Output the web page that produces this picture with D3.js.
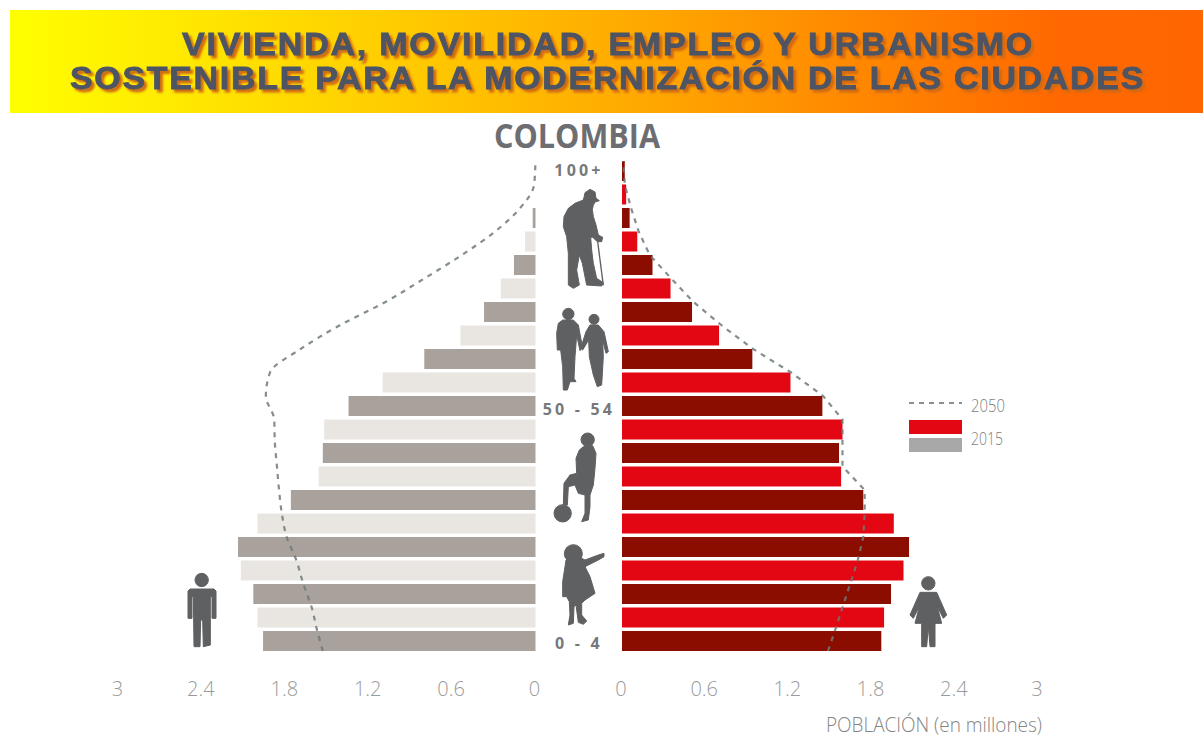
<!DOCTYPE html>
<html lang="es">
<head>
<meta charset="utf-8">
<title>Colombia: pirámide de población</title>
<script src="https://cdn.jsdelivr.net/npm/d3@7"></script>
<style>
  html, body { margin: 0; padding: 0; background: #fff; }
  svg { display: block; }
  .title { font: bold 31px "Liberation Sans", Arial, sans-serif; letter-spacing: 1.6px; fill: #4d5464; stroke: #4d5464; stroke-width: 0.8px; filter: drop-shadow(3px 3px 0.8px #cf6a14); }
  .country { font: bold 34px "Open Sans", sans-serif; fill: #6d6e71; }
  .age { font: bold 16px "Open Sans", sans-serif; fill: #77787b; letter-spacing: 3.2px; }
  .tick text { font: 300 20px "Open Sans", sans-serif; fill: #9a9a9a; }
  .note { font: 300 20px "Open Sans", sans-serif; fill: #858585; }
  .legend { font: 300 18px "Open Sans", sans-serif; fill: #7d7d7d; }
</style>
</head>
<body>
<svg id="chart" width="1203" height="740"></svg>
<script>
// Age groups, youngest first (lower bound of each five-year band)
const ageStarts = [0, 5, 10, 15, 20, 25, 30, 35, 40, 45, 50, 55, 60, 65, 70, 75, 80, 85, 90, 95, 100];

// Population in 2015, millions
const men2015 = [1.96, 2.0, 2.03, 2.12, 2.14, 2.0, 1.76, 1.56, 1.53, 1.52, 1.345, 1.1, 0.8, 0.54, 0.37, 0.25, 0.155, 0.075, 0.02, 0, 0];
const women2015 = [1.87, 1.89, 1.94, 2.03, 2.07, 1.96, 1.74, 1.58, 1.565, 1.59, 1.445, 1.215, 0.94, 0.7, 0.505, 0.35, 0.22, 0.11, 0.055, 0.03, 0.02];

// Projection for 2050, millions, sampled on the band edges
const edgeAges = [0, 5, 10, 15, 20, 25, 30, 35, 40, 45, 50, 55, 60, 65, 70, 75, 80, 85, 90, 95, 100, 105];
const men2050 = [1.53, 1.57, 1.61, 1.67, 1.72, 1.79, 1.825, 1.845, 1.86, 1.875, 1.88, 1.94, 1.91, 1.69, 1.41, 1.08, 0.8, 0.53, 0.29, 0.11, 0.01, 0];
const women2050 = [1.485, 1.535, 1.59, 1.645, 1.7, 1.74, 1.75, 1.75, 1.59, 1.59, 1.59, 1.45, 1.22, 0.945, 0.72, 0.515, 0.355, 0.2, 0.12, 0.065, 0.02, 0.01];

const axisTicks = [0, 0.6, 1.2, 1.8, 2.4, 3];
const ageLabels = [["100+", 100], ["50 - 54", 50], ["0 - 4", 0]];
const titleLines = ["VIVIENDA, MOVILIDAD, EMPLEO Y URBANISMO", "SOSTENIBLE PARA LA MODERNIZACIÓN DE LAS CIUDADES"];

const svg = d3.select("#chart");

// Scales: one horizontal scale per sex, one shared age scale
const xMen = d3.scaleLinear().domain([0, 3]).range([535.5, 118.5]);
const xWomen = d3.scaleLinear().domain([0, 3]).range([622, 1038]);
const yAge = d3.scaleLinear().domain([0, 5, 105]).range([651, 631, 161]);
const barHeight = 20;

// Banner
const defs = svg.append("defs");
const grad = defs.append("linearGradient").attr("id", "banner");
[[0, "#ffff00"], [0.33, "#ffcb00"], [0.6, "#ff9c00"], [0.88, "#ff6800"], [1, "#ff6600"]].forEach(([o, c]) =>
  grad.append("stop").attr("offset", o).attr("stop-color", c));
svg.append("rect").attr("x", 10).attr("y", 10).attr("width", 1193).attr("height", 103).attr("fill", "url(#banner)");
svg.selectAll(".title").data(titleLines).join("text")
  .attr("class", "title")
  .attr("x", (d, i) => i ? 70 : 182)
  .attr("y", (d, i) => i ? 89 : 55)
  .attr("textLength", (d, i) => i ? 1075 : 852)
  .attr("lengthAdjust", "spacingAndGlyphs")
  .text(d => d);

svg.append("text").attr("class", "country").attr("x", 577).attr("y", 148)
  .attr("text-anchor", "middle").attr("textLength", 166).attr("lengthAdjust", "spacingAndGlyphs").text("COLOMBIA");

// Bars: the colour alternates from one age group to the next
const rows = ageStarts.map((a, i) => ({ age: a, men: men2015[i], women: women2015[i], odd: i % 2 === 1 }));

svg.append("g").selectAll("rect").data(rows).join("rect")
  .attr("x", d => xMen(d.men))
  .attr("y", d => yAge(d.age + 5))
  .attr("width", d => xMen(0) - xMen(d.men))
  .attr("height", barHeight)
  .attr("fill", d => d.odd ? "#e9e6e1" : "#a8a19c");

svg.append("g").selectAll("rect").data(rows).join("rect")
  .attr("x", xWomen(0))
  .attr("y", d => yAge(d.age + 5))
  .attr("width", d => xWomen(d.women) - xWomen(0))
  .attr("height", barHeight)
  .attr("fill", d => d.odd ? "#e30613" : "#8b0d00");

// 2050 projection outlines
const drawOutline = (scale, values, curve) => {
  const line = d3.line().x(d => scale(d[1])).y(d => yAge(d[0])).curve(curve);
  svg.append("path")
    .attr("d", line(edgeAges.map((a, i) => [a, values[i]])))
    .attr("fill", "none")
    .attr("stroke", "#6f7a78")
    .attr("stroke-opacity", 0.85)
    .attr("stroke-width", 2.2)
    .attr("stroke-dasharray", "5 5.5");
};
drawOutline(xMen, men2050, d3.curveMonotoneY);
drawOutline(xWomen, women2050, d3.curveLinear);

// Age labels in the central column
const labelBaselines = [15, 19, 18];
svg.selectAll(".age").data(ageLabels).join("text")
  .attr("class", "age")
  .attr("x", 579)
  .attr("y", (d, i) => yAge(d[1] + 5) + labelBaselines[i])
  .attr("text-anchor", "middle")
  .text(d => d[0]);

// Horizontal axes without rules, only the labels
const drawAxis = scale => {
  const g = svg.append("g").attr("transform", "translate(-1.5,696)")
    .call(d3.axisBottom(scale).tickValues(axisTicks).tickFormat(d => d).tickSize(0).tickPadding(0));
  g.select(".domain").remove();
  g.selectAll("text").attr("y", 0).attr("dy", 0);
};
drawAxis(xMen);
drawAxis(xWomen);

svg.append("text").attr("class", "note").attr("x", 826).attr("y", 732)
  .attr("textLength", 216).attr("lengthAdjust", "spacingAndGlyphs").text("POBLACIÓN (en millones)");

// Legend
const legend = svg.append("g");
legend.append("line").attr("x1", 909).attr("x2", 962).attr("y1", 403).attr("y2", 403)
  .attr("stroke", "#8a8f8f").attr("stroke-width", 2).attr("stroke-dasharray", "5 5");
legend.append("rect").attr("x", 909).attr("y", 420).attr("width", 53).attr("height", 14).attr("fill", "#e30613");
legend.append("rect").attr("x", 909).attr("y", 438).attr("width", 53).attr("height", 14).attr("fill", "#a8a8a8");
legend.append("text").attr("class", "legend").attr("x", 971).attr("y", 412).attr("textLength", 34).attr("lengthAdjust", "spacingAndGlyphs").text("2050");
legend.append("text").attr("class", "legend").attr("x", 971).attr("y", 445).attr("textLength", 32).attr("lengthAdjust", "spacingAndGlyphs").text("2015");

// Silhouettes, each outlined on a 3× grid and softened with a round-joined stroke
const ICON = "#5f6062";
const outline = d3.line().curve(d3.curveLinearClosed);
const icon = (ox, oy, outlines, heads = []) => {
  const g = svg.append("g").attr("transform", `translate(${ox},${oy}) scale(${1 / 3})`)
    .attr("fill", ICON).attr("stroke", ICON).attr("stroke-width", 3).attr("stroke-linejoin", "round");
  outlines.forEach(p => g.append("path").attr("d", outline(p)));
  heads.forEach(([cx, cy, r]) => g.append("circle").attr("cx", cx).attr("cy", cy).attr("r", r));
  return g;
};

// Elderly man with a cane
icon(540, 180, [[[135,38],[150,28],[165,36],[168,55],[178,62],[165,66],[160,76],[157,88],[160,110],[168,135],[175,165],[188,172],[185,185],[172,185],[158,172],[152,172],[155,210],[160,250],[170,295],[190,308],[185,318],[140,315],[127,250],[118,225],[110,270],[118,315],[100,325],[85,315],[85,220],[80,170],[70,140],[72,110],[85,85],[105,70],[130,60],[133,48]]])
  .append("line").attr("x1", 173).attr("y1", 185).attr("x2", 190).attr("y2", 316).attr("stroke-width", 4);

// Couple holding hands
icon(540, 300, [
  [[68,60],[100,60],[115,75],[127,140],[120,152],[110,105],[105,170],[102,235],[108,245],[90,245],[82,270],[70,270],[68,200],[62,150],[52,150],[50,100],[55,70]],
  [[150,75],[175,75],[192,95],[205,155],[198,160],[188,120],[190,170],[185,255],[172,260],[160,225],[148,170],[146,120],[128,150],[122,145],[138,95]]
], [[85, 42, 17], [162, 58, 15]]);

// Boy with a ball
icon(540, 425, [[[130,65],[158,62],[168,85],[165,130],[160,180],[150,210],[150,245],[145,285],[125,290],[135,265],[135,210],[115,205],[105,180],[85,185],[82,240],[70,240],[72,175],[90,150],[110,145],[108,100],[118,75]]],
  [[143, 44, 20], [68, 265, 26]]);

// Little girl
icon(540, 535, [[[78,75],[125,70],[135,75],[175,60],[192,55],[192,65],[175,75],[135,95],[150,125],[165,175],[135,195],[125,205],[125,240],[140,258],[130,268],[115,262],[108,210],[102,215],[100,265],[85,270],[90,240],[88,200],[80,185],[68,185],[68,140],[75,95]]],
  [[100, 56, 27]]);

// Male and female pictograms
icon(160, 420, [[[90,507],[162,507],[168,513],[168,595],[156,595],[156,530],[151,530],[151,675],[130,680],[128,600],[122,600],[120,680],[102,680],[100,530],[96,530],[96,595],[84,595],[84,513]]],
  [[125, 480, 20]]);
icon(600, 460, [[[960,397],[1010,397],[1040,465],[1030,475],[1012,440],[1025,490],[1005,490],[1005,560],[990,560],[985,500],[980,560],[965,560],[965,490],[945,490],[958,440],[940,475],[930,465]]],
  [[985, 370, 20]]);
</script>
</body>
</html>
